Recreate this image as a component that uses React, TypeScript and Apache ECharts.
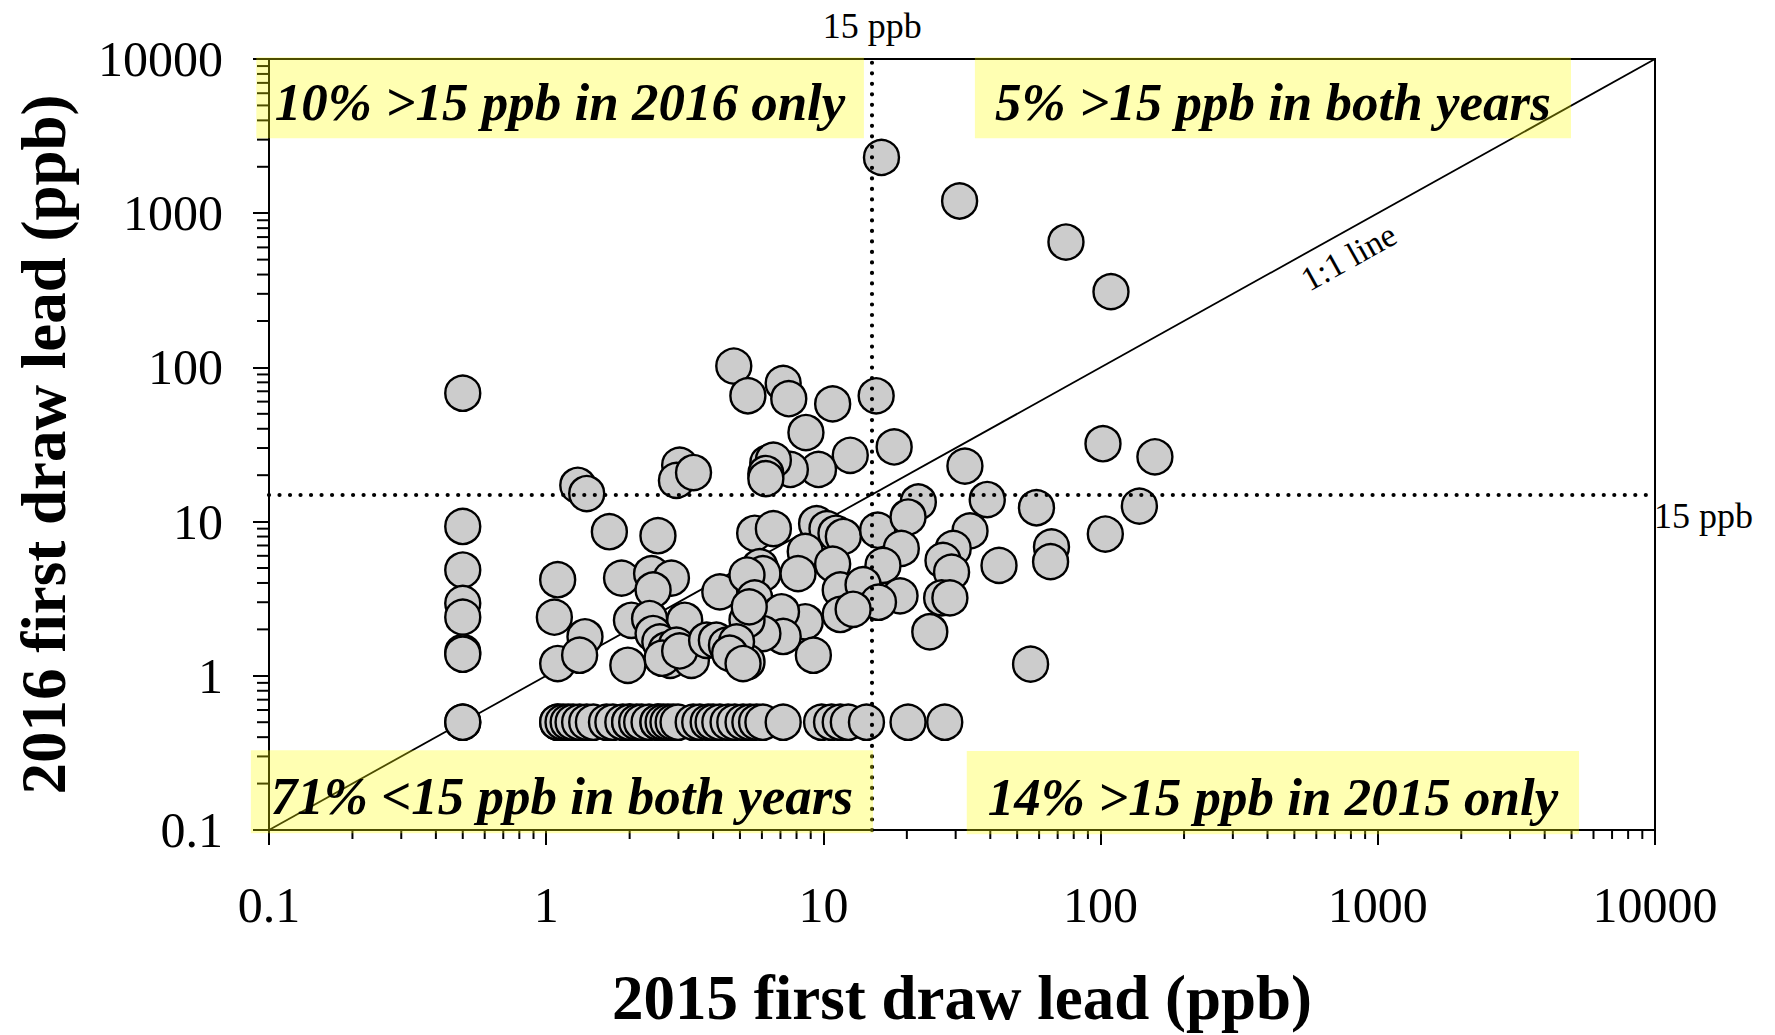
import React, { useEffect, useRef } from "react";
import * as echarts from "echarts";

// ---- data (ppb) ----
// households with 2015 value 0.5 (shown at x = 0.5)
const col05Lead2016 = [68, 9.3, 4.85, 2.95, 2.4, 1.42, 1.38, 0.5, 0.5];

// households with 2016 value 0.5 (shown at y = 0.5)
const row05Lead2015 = [
  1.1, 1.1, 1.15, 1.2, 1.25, 1.32, 1.4, 1.48, 1.65, 1.74, 1.89, 2.0, 2.0, 2.12,
  2.21, 2.35, 2.53, 2.53, 2.64, 2.75, 2.87, 2.99, 3.39, 3.58, 3.84, 4.0, 4.23,
  4.53, 4.79, 5.13, 5.43, 5.74, 6.05, 7.16, 9.85, 10.7, 11.5, 12.3, 14.3, 20.2,
  27.4,
];

// other households: 2015 and 2016 first draw lead
const otherLead2015 = [
  16.2, 31, 75, 109,
  4.75, 5.34, 7.16, 7.5, 8.65, 10.8, 15.5,
  12.5, 18, 9.6, 7.6, 6.3, 6.6, 6.2, 6.2,
  3.03, 2.95, 3.4, 1.3, 1.4,
  32.4, 22, 39, 102, 157, 58.7, 138,
  1.69, 2.53,
  5.65, 6.6, 9.45, 10.3, 11.1, 11.8, 15.7, 20.2, 33.8, 104, 66.5, 66, 43, 19.1,
  29.4, 27, 29, 8.6, 10.8, 16.4, 5.9, 6.05, 8.1,
  1.1, 1.87, 2.4, 2.83, 2.43, 4.23, 5.3, 5.65,
  11.5, 13.9, 18.9, 15.8, 11.5, 12.8, 26.7, 28.6, 24.2, 55.9,
  8.6, 7.06, 7.16, 6.05, 9.2, 5.3, 5.3, 5.4,
  1.07, 1.38, 1.1, 1.32, 1.97, 2.03, 2.36, 3.16,
  2.43, 2.57, 2.71, 2.8, 2.95, 2.62, 3.34, 3.03,
  3.79, 4.11, 4.47, 4.86, 4.59, 5.13,
];
const otherLead2016 = [
  2300, 1200, 650, 310,
  102, 65.5, 78.8, 62.7, 37.8, 58, 65.4,
  26.9, 30.5, 21.8, 21.8, 24, 25, 20.5, 19,
  23.2, 18.5, 20.8, 17.2, 15.2,
  22.9, 13.4, 13.9, 32, 26.3, 12.3, 12.6,
  8.6, 8.1,
  8.4, 9.0, 9.7, 9.0, 8.4, 8.0, 8.8, 10.7, 8.7, 8.3, 6.85, 5.5, 5.2, 6.7,
  6.7, 5.6, 4.7, 6.4, 5.3, 5.2, 5.1, 4.6, 4.6,
  4.2, 4.3, 4.6, 4.3, 3.6, 3.5, 4.5, 3.2,
  3.6, 3.9, 3.3, 3.0, 2.5, 2.7, 3.2, 3.2, 1.93, 1.19,
  2.24, 2.6, 1.8, 1.88, 1.36, 1.23, 2.3, 2.8,
  2.4, 1.79, 1.2, 1.36, 1.17, 2.29, 2.35, 2.29,
  1.88, 1.66, 1.47, 1.26, 1.58, 1.3, 1.26, 1.45,
  1.7, 1.7, 1.58, 1.66, 1.4, 1.2,
];

const tickLabels = ["0.1", "1", "10", "100", "1000", "10000"];
const threshold = 15;

// quadrant annotation boxes (value extents)
const boxTexts = [
  "10% >15 ppb in 2016 only",
  "5% >15 ppb in both years",
  "71% <15 ppb in both years",
  "14% >15 ppb in 2015 only",
];
const boxX0 = [0.09, 35.2, 0.086, 32.9];
const boxX1 = [14.0, 4977, 15.1, 5321];
const boxY0 = [3062, 3062, 0.0954, 0.094];
const boxY1 = [10280, 10280, 0.329, 0.325];

const FONT = '"Liberation Serif", "Times New Roman", serif';

export default function App() {
  const ref = useRef<HTMLDivElement>(null);

  useEffect(() => {
    const chart = echarts.init(ref.current!, null, { renderer: "svg" });

    const points: number[][] = [
      ...col05Lead2016.map((y) => [0.5, y]),
      ...row05Lead2015.map((x) => [x, 0.5]),
      ...otherLead2015.map((x, i) => [x, otherLead2016[i]]),
    ];

    const minor: number[] = [];
    for (let d = 0.1; d < 5000; d *= 10) {
      for (let m = 2; m <= 9; m++) minor.push(Number((m * d).toPrecision(6)));
    }

    const fmt = (v: number) => tickLabels[Math.round(Math.log10(v)) + 1] ?? "";

    chart.setOption({
      animation: false,
      backgroundColor: "#ffffff",
      grid: {
        left: 269,
        top: 59,
        right: 120,
        bottom: 205,
        show: true,
        borderColor: "#000",
        borderWidth: 2,
        backgroundColor: "transparent",
      },
      xAxis: {
        type: "log",
        logBase: 10,
        min: 0.1,
        max: 10000,
        name: "2015 first draw lead (ppb)",
        nameLocation: "middle",
        nameGap: 136,
        nameTextStyle: { fontFamily: FONT, fontSize: 63, fontWeight: "bold", color: "#000" },
        axisLine: { show: true, lineStyle: { color: "#000", width: 2 } },
        axisTick: { show: true, length: 15, lineStyle: { color: "#000", width: 2 } },
        axisLabel: { fontFamily: FONT, fontSize: 50, color: "#000", margin: 50, formatter: fmt },
        splitLine: { show: false },
      },
      yAxis: {
        type: "log",
        logBase: 10,
        min: 0.1,
        max: 10000,
        name: "2016 first draw lead (ppb)",
        nameLocation: "middle",
        nameGap: 194,
        nameTextStyle: { fontFamily: FONT, fontSize: 63, fontWeight: "bold", color: "#000" },
        axisLine: { show: true, lineStyle: { color: "#000", width: 2 } },
        axisTick: { show: true, length: 16, lineStyle: { color: "#000", width: 2 } },
        axisLabel: { fontFamily: FONT, fontSize: 50, color: "#000", margin: 46, formatter: fmt },
        splitLine: { show: false },
      },
      series: [
        {
          type: "custom",
          name: "xMinorTicks",
          silent: true,
          clip: false,
          data: minor.map((v) => [v, 0.1]),
          encode: { x: 0, y: 1 },
          renderItem: (_p: any, api: any) => {
            const p = api.coord([api.value(0), api.value(1)]);
            return {
              type: "line",
              shape: { x1: p[0], y1: p[1], x2: p[0], y2: p[1] + 9 },
              style: { stroke: "#000", lineWidth: 2 },
            };
          },
        },
        {
          type: "custom",
          name: "yMinorTicks",
          silent: true,
          clip: false,
          data: minor.map((v) => [0.1, v]),
          encode: { x: 0, y: 1 },
          renderItem: (_p: any, api: any) => {
            const p = api.coord([api.value(0), api.value(1)]);
            return {
              type: "line",
              shape: { x1: p[0], y1: p[1], x2: p[0] - 12, y2: p[1] },
              style: { stroke: "#000", lineWidth: 2 },
            };
          },
        },
        {
          type: "line",
          name: "1:1 line",
          data: [
            [0.1, 0.1],
            [10000, 10000],
          ],
          showSymbol: false,
          silent: true,
          z: 2,
          lineStyle: { color: "#000", width: 1.8 },
          markLine: {
            silent: true,
            symbol: ["none", "none"],
            label: { show: false },
            lineStyle: { color: "#000", width: 4.2, type: [0.01, 10.5], cap: "round" },
            data: [{ xAxis: threshold }, { yAxis: threshold }],
          },
        },
        {
          type: "scatter",
          name: "households",
          data: points,
          symbol: "circle",
          symbolSize: 35,
          z: 3,
          itemStyle: { color: "#cccccc", borderColor: "#000", borderWidth: 2.4, opacity: 1 },
        },
      ],
    });

    const px = (x: number, y: number) =>
      chart.convertToPixel({ gridIndex: 0 }, [x, y]) as number[];

    const graphics: any[] = [];
    boxTexts.forEach((t, i) => {
      const a = px(boxX0[i], boxY1[i]);
      const b = px(boxX1[i], boxY0[i]);
      graphics.push({
        type: "rect",
        z: 50,
        silent: true,
        shape: { x: a[0], y: a[1], width: b[0] - a[0], height: b[1] - a[1] },
        style: { fill: "rgba(255,255,0,0.3)" },
      });
      graphics.push({
        type: "text",
        z: 51,
        silent: true,
        x: (a[0] + b[0]) / 2,
        y: (a[1] + b[1]) / 2 + 4,
        style: {
          text: t,
          font: `italic bold 53px ${FONT}`,
          fill: "#000",
          textAlign: "center",
          textVerticalAlign: "middle",
          align: "center",
          verticalAlign: "middle",
        },
      });
    });

    const top = px(threshold, 10000);
    graphics.push({
      type: "text",
      z: 51,
      silent: true,
      x: top[0],
      y: top[1] - 33,
      style: {
        text: "15 ppb",
        font: `36px ${FONT}`,
        fill: "#000",
        textAlign: "center",
        textVerticalAlign: "middle",
        align: "center",
        verticalAlign: "middle",
      },
    });
    const right = px(10000, threshold);
    graphics.push({
      type: "text",
      z: 51,
      silent: true,
      x: right[0] - 1,
      y: right[1] + 22,
      style: {
        text: "15 ppb",
        font: `36px ${FONT}`,
        fill: "#000",
        textAlign: "left",
        textVerticalAlign: "middle",
        align: "left",
        verticalAlign: "middle",
      },
    });

    const p0 = px(713, 713);
    const p1 = px(7130, 7130);
    const ang = Math.atan2(p0[1] - p1[1], p1[0] - p0[0]);
    graphics.push({
      type: "text",
      z: 51,
      silent: true,
      x: p0[0] + Math.sin(ang) * 24,
      y: p0[1] + Math.cos(ang) * 24,
      rotation: ang,
      style: {
        text: "1:1 line",
        font: `34px ${FONT}`,
        fill: "#000",
        textAlign: "center",
        textVerticalAlign: "middle",
        align: "center",
        verticalAlign: "middle",
      },
    });

    chart.setOption({ graphic: graphics });

    return () => chart.dispose();
  }, []);

  return (
    <div
      ref={ref}
      style={{ position: "absolute", left: 0, top: 0, width: 1775, height: 1035 }}
    />
  );
}
